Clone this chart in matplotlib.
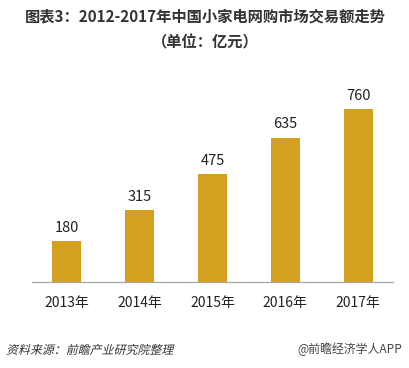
import matplotlib.pyplot as plt
from matplotlib.textpath import TextPath
from matplotlib.patches import PathPatch
from matplotlib.font_manager import FontProperties
from matplotlib.transforms import Affine2D

plt.rcParams['font.family'] = ['Noto Sans CJK SC', 'DejaVu Sans']

years = ['2013年', '2014年', '2015年', '2016年', '2017年']
values = [180, 315, 475, 635, 760]

fig = plt.figure(figsize=(4.1, 3.68), dpi=100)
ax = fig.add_axes([32/410, 1-282/368, 361/410, 192/368])

x = range(len(years))
bars = ax.bar(x, values, width=0.4, color='#D4A020', zorder=2)
for bar, v in zip(bars, values):
    ax.text(bar.get_x() + bar.get_width()/2, v + 28, str(v),
            ha='center', va='bottom', fontsize=10.5, color='#222222')

ax.set_xlim(-0.48, 4.48)
ax.set_ylim(0, 844)
ax.set_xticks(list(x))
ax.set_xticklabels(years, fontsize=10, color='#222222')
ax.tick_params(axis='x', length=0, pad=10)
ax.set_yticks([])
for s in ['top', 'right', 'left']:
    ax.spines[s].set_visible(False)
ax.spines['bottom'].set_color('#A6A6A6')
ax.spines['bottom'].set_linewidth(0.9)

fig.text(0.5, 1-16/368, '图表3：2012-2017年中国小家电网购市场交易额走势',
         ha='center', va='center', fontsize=11, fontweight='bold', color='#333333')
fig.text(0.5, 1-42/368, '（单位：亿元）',
         ha='center', va='center', fontsize=11, fontweight='bold', color='#333333')

# source note in slanted style (CJK font has no italic, so skew the glyph paths)
src = TextPath((0, 0), '资料来源：前瞻产业研究院整理', size=8.6,
               prop=FontProperties(family='Noto Sans CJK SC'))
tr = Affine2D().skew_deg(14, 0).scale(100/72).translate(6, 368-354)
fig.add_artist(PathPatch(src, transform=tr, facecolor='#333333', edgecolor='none'))

fig.text(402/410, 1-349/368, '@前瞻经济学人APP',
         ha='right', va='center', fontsize=8.6, color='#444444')

fig.savefig('out.png', dpi=100)
